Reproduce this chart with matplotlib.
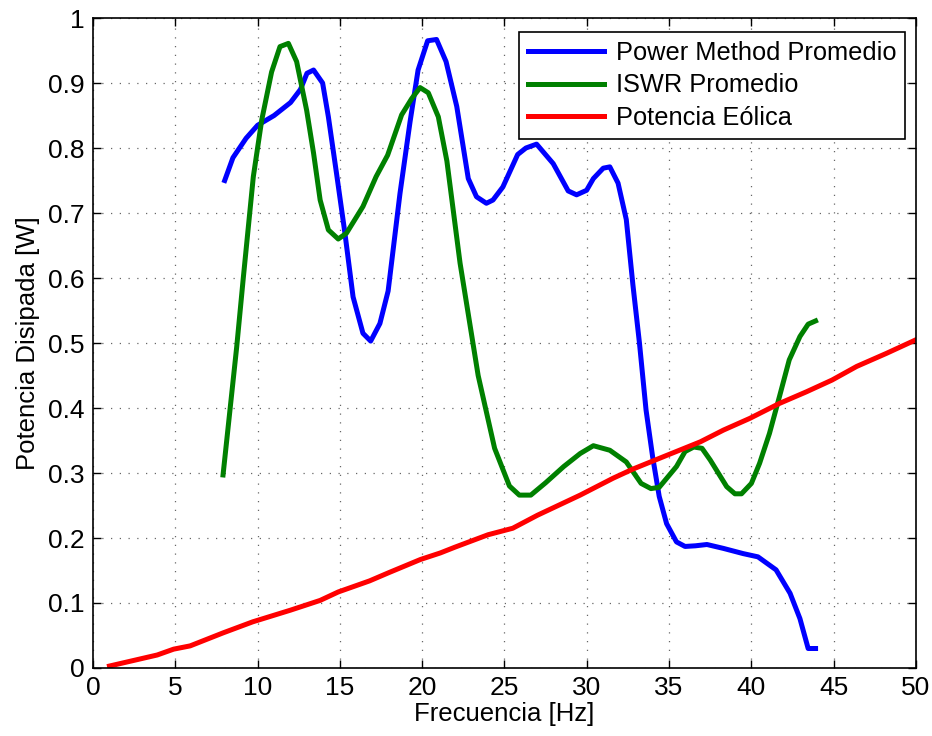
import numpy as np
import matplotlib
matplotlib.use("Agg")
import matplotlib.pyplot as plt

plt.rcParams['font.family'] = ['Liberation Sans', 'DejaVu Sans']

# Power Method Promedio
pm_x = [8, 8.5, 9.3, 10, 11, 12, 12.6, 13.0, 13.4, 13.95, 14.3, 14.8, 15.3, 15.8, 16.4,
        16.87, 17.43, 17.93, 18.65, 19.26, 19.75, 20.33, 20.87, 21.45, 22.1, 22.8, 23.3,
        23.9, 24.3, 24.9, 25.8, 26.3, 26.95, 27.96, 28.87, 29.38, 29.99, 30.4, 31.0, 31.4,
        31.9, 32.4, 32.8, 33.2, 33.6, 34.0, 34.4, 34.85, 35.45, 35.97, 36.6, 37.3, 38.3,
        39.5, 40.4, 41.5, 42.35, 42.95, 43.45, 43.9]
pm_y = [0.75, 0.785, 0.815, 0.835, 0.85, 0.87, 0.89, 0.915, 0.92, 0.90, 0.848, 0.76, 0.67,
        0.571, 0.515, 0.503, 0.53, 0.58, 0.73, 0.84, 0.92, 0.965, 0.967, 0.933, 0.864, 0.753,
        0.725, 0.715, 0.72, 0.74, 0.79, 0.80, 0.806, 0.776, 0.734, 0.728, 0.735, 0.753, 0.769,
        0.771, 0.746, 0.69, 0.59, 0.50, 0.397, 0.325, 0.264, 0.222, 0.194, 0.187, 0.188, 0.19,
        0.184, 0.176, 0.171, 0.151, 0.115, 0.076, 0.030, 0.030]

# ISWR Promedio
iswr_x = [7.9, 8.73, 9.13, 9.74, 10.25, 10.85, 11.36, 11.87, 12.37, 12.98, 13.4, 13.8, 14.3,
          14.9, 15.4, 16.4, 17.2, 17.9, 18.75, 19.36, 19.87, 20.37, 20.98, 21.5, 22.3, 23.4,
          24.4, 25.3, 25.9, 26.6, 27.5, 28.6, 29.6, 30.4, 31.4, 32.4, 33.3, 33.9, 34.4, 35.45,
          35.97, 36.5, 37.0, 37.5, 38.5, 39.0, 39.4, 40.0, 40.5, 41.1, 41.7, 42.3, 42.95,
          43.45, 43.9]
iswr_y = [0.297, 0.494, 0.60, 0.756, 0.843, 0.917, 0.956, 0.961, 0.933, 0.858, 0.792, 0.72,
          0.674, 0.66, 0.669, 0.71, 0.756, 0.789, 0.851, 0.876, 0.893, 0.885, 0.848, 0.78,
          0.623, 0.45, 0.338, 0.28, 0.266, 0.266, 0.285, 0.31, 0.330, 0.342, 0.335, 0.317,
          0.284, 0.276, 0.278, 0.31, 0.333, 0.34, 0.338, 0.32, 0.279, 0.268, 0.268, 0.284,
          0.315, 0.361, 0.417, 0.474, 0.51, 0.529, 0.534]

# Potencia Eolica
eol_x = [1, 3.9, 4.9, 5.9, 7.9, 9.7, 12, 13.8, 14.9, 16.8, 18, 19.9, 21.1, 22, 24, 25.5, 27,
         29.6, 31.6, 32.8, 34.65, 36.9, 38.3, 39.9, 41.7, 43.35, 44.9, 46.4, 48.2, 50]
eol_y = [0.003, 0.02, 0.029, 0.034, 0.054, 0.071, 0.089, 0.104, 0.117, 0.134, 0.147, 0.167,
         0.177, 0.186, 0.205, 0.215, 0.235, 0.266, 0.292, 0.306, 0.325, 0.348, 0.366, 0.384,
         0.407, 0.425, 0.443, 0.464, 0.484, 0.505]

fig = plt.figure(figsize=(9.32, 7.36), dpi=100)
ax = fig.add_axes([0.0998, 0.0924, 0.883, 0.8831])

ax.plot(pm_x, pm_y, color=(0, 0, 1), lw=3.6, label='Power Method Promedio')
ax.plot(iswr_x, iswr_y, color=(0, 0.5, 0), lw=3.6, label='ISWR Promedio')
ax.plot(eol_x, eol_y, color=(1, 0, 0), lw=3.6, label='Potencia Eólica')

ax.set_xlim(0, 50)
ax.set_ylim(0, 1)
ax.set_xticks(np.arange(0, 51, 5))
ax.set_yticks(np.arange(0, 1.01, 0.1))
ax.set_yticklabels(['0', '0.1', '0.2', '0.3', '0.4', '0.5', '0.6', '0.7', '0.8', '0.9', '1'])
ax.tick_params(direction='in', top=True, right=True, length=6, width=1, labelsize=19, pad=6)
ax.grid(True, linestyle=(0, (1, 6)), color='black', lw=0.9, alpha=0.6)
for s in ax.spines.values():
    s.set_linewidth(1.2)

ax.set_xlabel('Frecuencia [Hz]', fontsize=18.5, labelpad=1)
ax.set_ylabel('Potencia Disipada [W]', fontsize=18.5, labelpad=6)

leg = ax.legend(loc='upper right', bbox_to_anchor=(0.987, 0.979), borderaxespad=0,
                fontsize=18.3, handlelength=3.0, handletextpad=0.45, labelspacing=0.35,
                fancybox=False, framealpha=1, borderpad=0.35)
leg.get_frame().set_edgecolor('black')
leg.get_frame().set_linewidth(1.2)

fig.savefig('out.png', dpi=100)
